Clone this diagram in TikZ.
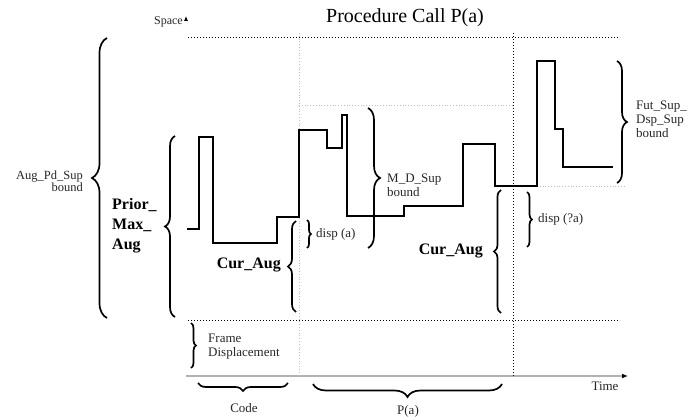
\documentclass[tikz,border=0pt]{standalone}
\usepackage{fontspec}
\setmainfont{Liberation Serif}
\usetikzlibrary{decorations.pathreplacing,arrows.meta}
\begin{document}
\begin{tikzpicture}[x=1pt,y=-1pt,
  brc/.style={decorate,decoration={brace,amplitude=#1},line width=1.7pt,black},
  lbl/.style={font=\fontsize{13}{14}\selectfont,text=black!85,inner sep=0pt,align=left},
  blbl/.style={font=\fontsize{16}{20}\selectfont\bfseries,inner sep=0pt,align=left},
  blk/.style={dotted,line width=1pt,black},
  lgt/.style={dotted,line width=0.8pt,black!25},
  stepline/.style={line width=1.6pt,black,line join=miter}]
\useasboundingbox (0,0) rectangle (691,417);
% title
\node[font=\fontsize{20}{22}\selectfont] (title) at (405,18) {Procedure Call P(a)};
% axes
\draw[white,line width=0.8pt,-{Latex[color=black,length=5pt,width=4pt]}] (186,376) -- (186,16);
\draw[black!30,line width=1.2pt,-{Latex[color=black,length=6pt,width=5pt]}] (186,376) -- (628,376);
\node[lbl,anchor=east,font=\fontsize{12}{13}\selectfont] (space) at (183,22) {Space};
\node[lbl] (time) at (605,386) {Time};
% dotted guides
\draw[blk] (188,38) -- (620,38);
\draw[blk] (188,320) -- (620,320);
\draw[blk] (513,33) -- (513,376);
\draw[lgt] (299,33) -- (299,376);
\draw[lgt] (299,105) -- (513,105);
\draw[lgt] (537,186) -- (625,186);
% step curve
\draw[stepline] (187,229) -- (199,229) -- (199,137) -- (213,137) -- (213,243) -- (277,243)
  -- (277,217) -- (299,217) -- (299,130) -- (327,130) -- (327,148) -- (342,148) -- (342,115)
  -- (347,115) -- (347,216) -- (404,216) -- (404,206) -- (463,206) -- (463,144) -- (495,144)
  -- (495,186) -- (537,186) -- (537,61) -- (555,61) -- (555,129) -- (563,129) -- (563,167) -- (613,167);
% braces
\draw[brc=15pt] (107,318) -- (107,38);
\node[lbl,anchor=east,align=right,font=\fontsize{12.5}{12}\selectfont] (augpd) at (83,181) {Aug\_Pd\_Sup\\bound};
\draw[brc=10pt] (175,317) -- (175,136);
\node[blbl,anchor=west] (prior) at (112,226) {Prior\_\\Max\_\\Aug};
\draw[brc=8pt] (296,312) -- (296,221);
\node[blbl,anchor=east] (cur1) at (281,265) {Cur\_Aug};
\draw[brc=4pt] (307,220) -- (307,248);
\node[lbl,anchor=west] (dispa) at (316,234) {disp (a)};
\draw[brc=12pt] (368,108) -- (368,248);
\node[lbl,anchor=west] (mdsup) at (387,185) {M\_D\_Sup\\bound};
\draw[brc=7pt] (501,313) -- (501,190);
\node[blbl,anchor=east] (cur2) at (483,251) {Cur\_Aug};
\draw[brc=5pt] (527,192) -- (527,247);
\node[lbl,anchor=west] (dispna) at (538,219) {disp (?a)};
\draw[brc=10pt] (617,61) -- (617,183);
\node[lbl,anchor=west] (fut) at (636,119) {Fut\_Sup\_\\Dsp\_Sup\\bound};
\draw[brc=5pt] (191,323) -- (191,368);
\node[lbl,anchor=west] (frame) at (208,347) {Frame\\Displacement};
\draw[brc=8pt] (288,383) -- (198,383);
\node[lbl] (code) at (244,408) {Code};
\draw[brc=13pt] (502,384) -- (313,384);
\node[lbl] (pa) at (408,411) {P(a)};
\end{tikzpicture}
\end{document}
